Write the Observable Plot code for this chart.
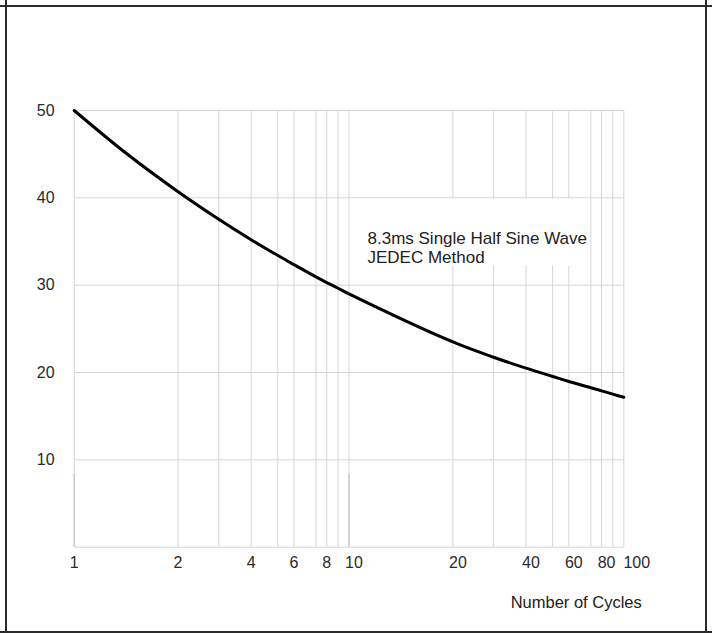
<!DOCTYPE html>
<html>
<head>
<meta charset="utf-8">
<script src="https://cdn.jsdelivr.net/npm/d3@7"></script>
<script src="https://cdn.jsdelivr.net/npm/@observablehq/plot@0.6"></script>
<style>
  html, body { margin: 0; padding: 0; background: #fff; }
  #wrap { position: relative; width: 712px; height: 633px; overflow: hidden; }
  #wrap svg { position: absolute; left: 0; top: 0; }
  .ln { position: absolute; background: #2b2b2b; }
</style>
</head>
<body>
<div id="wrap">
  <div class="ln" style="left:0;top:5px;width:712px;height:2px"></div>
  <div class="ln" style="left:0;top:631px;width:712px;height:2px"></div>
  <div class="ln" style="left:5px;top:0;width:2px;height:633px"></div>
  <div class="ln" style="left:705px;top:0;width:2px;height:633px"></div>
</div>
<script>
// ---- data ----
const cycles  = [1, 1.5, 2, 3, 4, 5, 6, 7, 8, 9, 10, 20, 30, 40, 50, 60, 70, 80, 90, 100];
const current = [50, 45.1, 40.7, 37.55, 35.2, 33.4, 32.35, 30.95, 30.3, 29.65, 29.0, 23.5, 21.75, 20.5, 19.55, 18.97, 18.25, 17.9, 17.52, 17.17];

const gridCycles = [1, 2, 3, 4, 5, 6, 7, 8, 9, 10, 20, 30, 40, 50, 60, 70, 80, 90, 100];
const xTickLow  = [1, 2, 4, 6, 8];
const xTickHigh = [10, 20, 40, 60, 80];
const xTickEnd  = [100];
const yTicks = [10, 20, 30, 40, 50];
const yGrid = [0, 10, 20, 30, 40, 50];
const stubs = [1, 10];
const noteText = ["8.3ms Single Half Sine Wave\nJEDEC Method"];
const xLabel = ["Number of Cycles"];

const data = cycles.map((c, i) => ({cycles: c, current: current[i]}));

// the chart's cycle axis: each decade uses the same (non-true-log) gridline spacing
const W = 712, H = 633;
const mL = 73.7, mR = 88.7, mT = 110, mB = 86.3;
const decadeFrac = [0, 0.378, 0.526, 0.644, 0.741, 0.800, 0.880, 0.919, 0.960];
const decadeW = (W - mL - mR) / 2;
const xRange = gridCycles.map((v, i) => mL + (Math.floor(i / 9) + decadeFrac[i % 9]) * decadeW);

const chart = Plot.plot({
  width: W,
  height: H,
  marginLeft: mL,
  marginRight: mR,
  marginTop: mT,
  marginBottom: mB,
  style: {fontFamily: "'Liberation Sans', Arial, sans-serif", fontSize: "16px", color: "#2a2a2a", background: "transparent"},
  x: {type: "linear", domain: gridCycles, range: xRange},
  y: {domain: [0, 50]},
  marks: [
    Plot.gridX(gridCycles, {stroke: "#d6d6d6", strokeOpacity: 1}),
    Plot.gridY(yGrid, {stroke: "#d6d6d6", strokeOpacity: 1}),
    Plot.ruleX(stubs, {y1: 0, y2: 8.4, stroke: "#c4c4c4", strokeWidth: 1.2}),
    Plot.rect([{x1: 10, x2: 70, y1: 32.2, y2: 39.85}], {x1: "x1", x2: "x2", y1: "y1", y2: "y2", fill: "white", insetLeft: 1.5, insetRight: 1}),
    Plot.text(noteText, {x: 10, y: 34.3, dx: 18.5, textAnchor: "start", lineAnchor: "middle", lineHeight: 1.12, fontSize: 17, fill: "#222"}),
    Plot.line(data, {x: "cycles", y: "current", stroke: "#000", strokeWidth: 3, curve: "catmull-rom"}),
    Plot.axisX(xTickLow, {tickSize: 0, tickPadding: 9, label: null, fontSize: 16}),
    Plot.axisX(xTickHigh, {tickSize: 0, tickPadding: 9, label: null, fontSize: 16, dx: 5}),
    Plot.axisX(xTickEnd, {tickSize: 0, tickPadding: 9, label: null, fontSize: 16, dx: 13}),
    Plot.axisY(yTicks, {tickSize: 0, tickPadding: 28.5, textAnchor: "middle", label: null, fontSize: 16}),
    Plot.text(xLabel, {frameAnchor: "bottom-right", dx: 18, dy: 56, textAnchor: "end", lineAnchor: "middle", fontSize: 16.5, fill: "#222"})
  ]
});
document.getElementById("wrap").prepend(chart);
</script>
</body>
</html>
